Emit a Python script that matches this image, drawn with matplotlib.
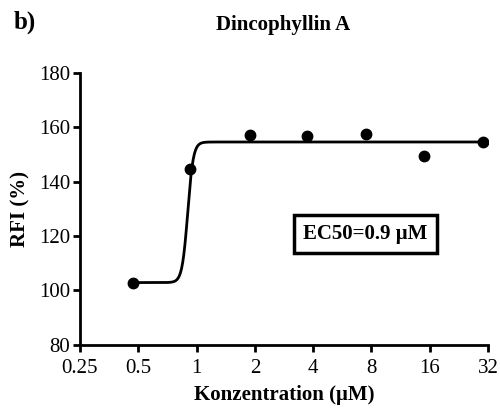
import numpy as np
import matplotlib.pyplot as plt
from matplotlib.ticker import LogLocator, FixedLocator, FixedFormatter, NullFormatter

plt.rcParams['font.family'] = ['Liberation Serif', 'DejaVu Serif']

# data
conc = [0.47, 0.93, 1.88, 3.72, 7.5, 14.9, 30.0]
rfi = [102.8, 144.5, 157.2, 156.7, 157.6, 149.6, 154.6]

x_ticks = [0.25, 0.5, 1, 2, 4, 8, 16, 32]
x_tick_labels = ['0.25', '0.5', '1', '2', '4', '8', '16', '32']
y_ticks = [80, 100, 120, 140, 160, 180]

# fitted curve parameters
bottom, top, ec50, hill = 102.9, 154.6, 0.9, 30

fig = plt.figure(figsize=(5, 4.12), dpi=100)
ax = fig.add_axes([0.16, 0.163, 0.816, 0.66])

xs = np.logspace(np.log10(conc[0]), np.log10(conc[-1]), 600)
ys = bottom + (top - bottom) / (1 + (ec50 / xs) ** hill)
ax.plot(xs, ys, color='black', lw=2, zorder=2)
ax.plot(conc, rfi, 'o', color='black', ms=7.5, zorder=3)

ax.set_xscale('log', base=2)
ax.set_xlim(0.25, 32)
ax.set_ylim(80, 180)

ax.xaxis.set_major_locator(FixedLocator(x_ticks))
ax.xaxis.set_major_formatter(FixedFormatter(x_tick_labels))
ax.xaxis.set_minor_locator(LogLocator(base=2, subs=np.arange(1.1, 2.0, 0.1)))
ax.xaxis.set_minor_formatter(NullFormatter())
ax.set_yticks(y_ticks)

for s in ['top', 'right']:
    ax.spines[s].set_visible(False)
for s in ['left', 'bottom']:
    ax.spines[s].set_linewidth(2)

ax.tick_params(axis='both', which='major', length=5, width=2, labelsize=15, pad=2)
ax.tick_params(axis='x', which='major', pad=5)
ax.tick_params(axis='x', which='minor', length=3.5, width=1.5)

ax.set_xlabel('Konzentration (μM)', fontsize=15, fontweight='bold', labelpad=5)
ax.set_ylabel('RFI (%)', fontsize=15, fontweight='bold', labelpad=6)

fig.text(0.567, 0.94, 'Dincophyllin A', ha='center', va='center', fontsize=15, fontweight='bold')
fig.text(0.028, 0.945, 'b)', ha='left', va='center', fontsize=18, fontweight='bold')

ax.text(0.699, 0.408, 'EC50=0.9 μM', transform=ax.transAxes, ha='center', va='center',
        fontsize=15, fontweight='bold',
        bbox=dict(boxstyle='square,pad=0.45', fc='white', ec='black', lw=2.5))

fig.savefig('out.png', dpi=100)
